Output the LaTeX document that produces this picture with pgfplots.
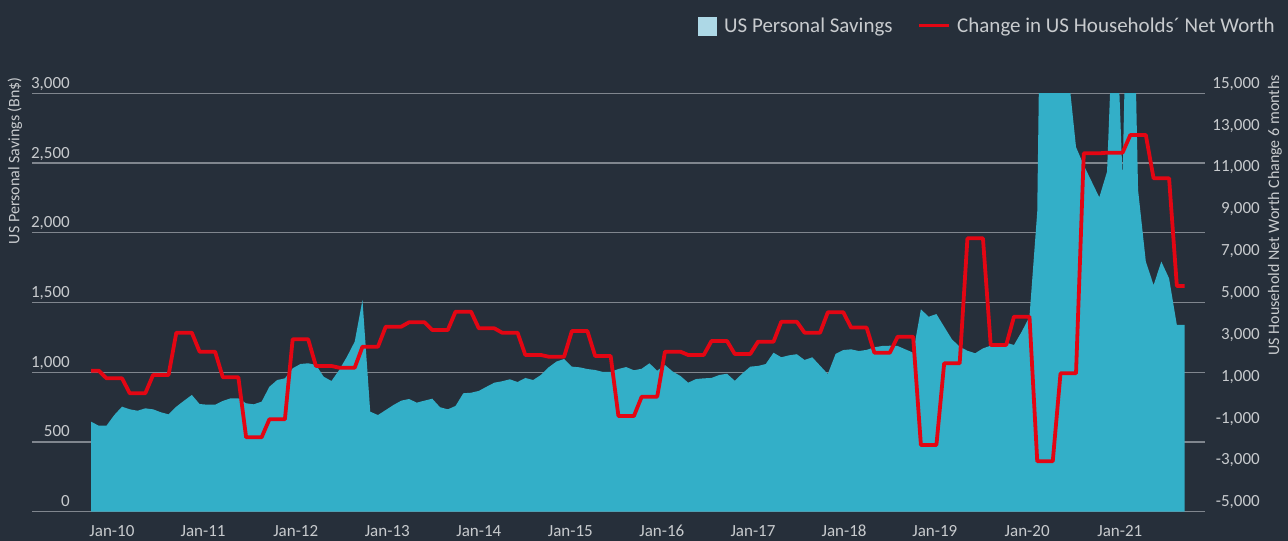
\documentclass[border=0pt]{standalone}
\usepackage{pgfplots}
\pgfplotsset{compat=1.18}
\usepackage{pgfplotstable}
\usepackage{fontspec}
\setmainfont{Carlito}
\definecolor{bg}{RGB}{38,47,58}
\definecolor{areac}{RGB}{51,175,200}
\definecolor{redc}{RGB}{227,6,19}
\definecolor{gridc}{RGB}{128,134,142}
\definecolor{txt}{RGB}{200,203,206}
\definecolor{legsq}{RGB}{173,216,230}

\pgfplotstableread{
x y
0 645
1 617
2 617
3 693
4 753
5 734
6 724
7 741
8 734
9 713
10 698
11 753
12 796
13 837
14 772
15 767
16 767
17 794
18 813
19 813
20 777
21 770
22 789
23 896
24 944
25 956
26 1028
27 1059
28 1064
29 1052
30 968
31 937
32 1016
33 1111
34 1219
35 1518
36 717
37 693
38 729
39 765
40 796
41 808
42 782
43 796
44 810
45 749
46 734
47 758
48 849
49 853
50 866
51 896
52 925
53 935
54 949
55 930
56 959
57 944
58 980
59 1035
60 1076
61 1095
62 1040
63 1035
64 1023
65 1016
66 1002
67 1002
68 1023
69 1037
70 1014
71 1025
72 1064
73 1011
74 1052
75 1005
76 973
77 925
78 951
79 956
80 959
81 980
82 989
83 939
84 992
85 1040
86 1045
87 1059
88 1140
89 1107
90 1121
91 1129
92 1088
93 1107
94 1047
95 987
96 1131
97 1159
98 1164
99 1152
100 1160
101 1179
102 1188
103 1190
104 1188
105 1164
106 1140
107 1451
108 1398
109 1417
110 1326
111 1236
112 1183
113 1154
114 1136
115 1171
116 1190
117 1200
118 1212
119 1195
120 1291
121 1398
122 2150
123 6400
124 4600
125 3700
126 3150
127 2614
128 2484
129 2369
130 2254
131 2438
132 3890
133 2390
134 5000
135 2307
136 1793
137 1625
138 1793
139 1673
140 1339
141 1339
}\savings

\pgfplotstableread{
x y
0 1740
1 1740
2 1376
3 1376
4 1376
5 659
6 659
7 659
8 1534
9 1534
10 1534
11 3556
12 3556
13 3556
14 2648
15 2648
16 2648
17 1424
18 1424
19 1424
20 -1444
21 -1444
22 -1444
23 -583
24 -583
25 -583
26 3241
27 3241
28 3241
29 1965
30 1965
31 1965
32 1883
33 1883
34 1883
35 2887
36 2887
37 2887
38 3843
39 3843
40 3843
41 4053
42 4053
43 4053
44 3685
45 3685
46 3685
47 4560
48 4560
49 4560
50 3766
51 3766
52 3766
53 3556
54 3556
55 3556
56 2490
57 2490
58 2490
59 2409
60 2409
61 2409
62 3637
63 3637
64 3637
65 2443
66 2443
67 2443
68 -426
69 -426
70 -426
71 497
72 497
73 497
74 2648
75 2648
76 2648
77 2490
78 2490
79 2490
80 3159
81 3159
82 3159
83 2538
84 2538
85 2538
86 3126
87 3126
88 3126
89 4082
90 4082
91 4082
92 3556
93 3556
94 3556
95 4531
96 4531
97 4531
98 3800
99 3800
100 3800
101 2600
102 2600
103 2600
104 3365
105 3365
106 3365
107 -1812
108 -1812
109 -1812
110 2093
111 2093
112 2093
113 8069
114 8069
115 8069
116 2968
117 2968
118 2968
119 4321
120 4321
121 4321
122 -2590
123 -2590
124 -2590
125 1616
126 1616
127 1616
128 12131
129 12131
130 12131
131 12160
132 12160
133 12160
134 13006
135 13006
136 13006
137 10937
138 10937
139 10937
140 5788
141 5788
}\networth

\begin{document}
\begin{tikzpicture}[x=1bp,y=1bp]
\fill[bg] (0,0) rectangle (1288,541);
\pgfplotsset{
  common/.style={
    at={(32bp,29.3bp)}, anchor=south west,
    scale only axis, width=1173bp, height=418.4bp,
    xmin=-7.607, xmax=143.63,
    axis line style={draw=none},
    major tick length=0pt,
    scaled y ticks=false,
    tick label style={font=\fontsize{17bp}{17bp}\selectfont, text=txt},
    /pgf/number format/assume math mode=true,
    /pgf/number format/1000 sep={,},
  }
}
\begin{axis}[common,
  ymin=0, ymax=3000,
  ytick={0,500,...,3000},
  ymajorgrids, grid style={gridc, line width=1.3bp},
  xtick={2.7,14.45,26.4,38.2,50.0,61.8,73.6,85.35,97.1,108.8,120.7,132.65},
  xticklabels={Jan-10,Jan-11,Jan-12,Jan-13,Jan-14,Jan-15,Jan-16,Jan-17,Jan-18,Jan-19,Jan-20,Jan-21},
  yticklabel style={anchor=base east, inner sep=0pt, xshift=38bp, yshift=5bp},
  xticklabel style={anchor=base, inner sep=0pt, yshift=-25bp},
]
\addplot[fill=areac, draw=none] table[x=x,y=y] {\savings} \closedcycle;
\end{axis}
\begin{axis}[common,
  ymin=-5000, ymax=15000,
  ytick={-5000,-3000,...,15000},
  xtick=\empty,
  yticklabel pos=right,
  yticklabel style={anchor=base east, inner sep=0pt, xshift=55bp, yshift=5bp},
]
\addplot[redc, line width=3.8bp, line join=round] table[x=x,y=y] {\networth};
\end{axis}
% axis titles
\node[rotate=90, anchor=east, inner sep=0pt, text=txt, font=\fontsize{16bp}{16bp}\selectfont] at (15,464) {US Personal Savings (Bn\$)};
\node[rotate=90, anchor=east, inner sep=0pt, text=txt, font=\fontsize{16bp}{16bp}\selectfont] at (1275,466) {US Household Net Worth Change 6 months};
% legend
\fill[legsq] (698,505) rectangle (717,524);
\node[anchor=base west, inner sep=0pt, text=txt, font=\fontsize{21bp}{21bp}\selectfont] at (724,508) {US Personal Savings};
\draw[redc, line width=3bp] (919,515) -- (949,515);
\node[anchor=base west, inner sep=0pt, text=txt, font=\fontsize{21bp}{21bp}\selectfont] at (957,508) {Change in US Households´ Net Worth};
\pgfresetboundingbox
\path (0,0) rectangle (1288,541);
\end{tikzpicture}
\end{document}
